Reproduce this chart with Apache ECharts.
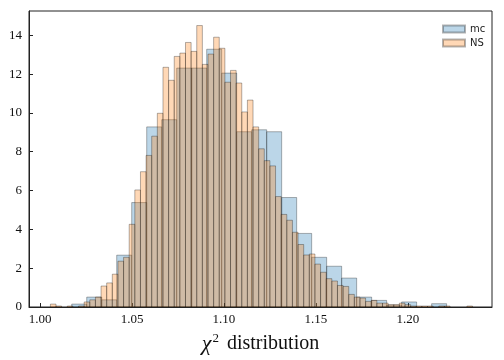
<!DOCTYPE html>
<html>
<head>
<meta charset="utf-8">
<script src="https://cdn.jsdelivr.net/npm/echarts@6/dist/echarts.min.js"></script>
<style>html,body{margin:0;padding:0;background:#fff}#c{width:504px;height:360px}</style>
</head>
<body>
<div id="c"></div>
<script>
// ---- data ----
const seriesNames = ['mc', 'NS'];
// mc histogram: 25 equal bins
const mcBinStart = 1.01723;
const mcBinWidth = 0.008152;
const mcHeights = [0.15, 0.51, 0.37, 2.67, 5.38, 9.28, 9.65, 12.31, 12.31, 13.28,
  12.05, 9.03, 9.13, 9.03, 5.64, 3.79, 2.56, 2.10, 1.49, 0.51,
  0.34, 0.10, 0.26, 0.00, 0.17];
// NS histogram: 75 equal bins
const nsBinStart = 1.00563;
const nsBinWidth = 0.00306;
const nsHeights = [0.15, 0.05, 0.00, 0.05, 0.00, 0.05, 0.26, 0.37, 0.51, 1.08,
  1.24, 1.69, 2.36, 2.56, 4.26, 6.03, 6.97, 7.81, 8.80, 9.98,
  12.35, 11.68, 12.91, 13.08, 13.63, 13.17, 14.50, 12.50, 13.03, 13.90,
  13.33, 11.58, 12.19, 11.54, 10.05, 10.66, 9.28, 8.15, 7.54, 7.27,
  5.69, 4.77, 4.47, 3.85, 3.22, 2.68, 2.73, 2.21, 1.79, 1.46,
  1.34, 1.11, 1.06, 0.65, 0.51, 0.46, 0.29, 0.34, 0.20, 0.20,
  0.12, 0.12, 0.20, 0.12, 0.05, 0.05, 0.05, 0.05, 0.00, 0.05,
  0.05, 0.00, 0.00, 0.00, 0.05];
const xTicks = [1.00, 1.05, 1.10, 1.15, 1.20];
const yTicks = [0, 2, 4, 6, 8, 10, 12, 14];
const xRange = [0.994, 1.2457];
const yRange = [0, 15.25];

// ---- build ----
function bins(start, width, heights) {
  return heights.map((h, i) => [start + i * width, start + (i + 1) * width, h]);
}
function renderBar(fill) {
  return function (params, api) {
    const x0 = api.value(0), x1 = api.value(1), h = api.value(2);
    if (!(h > 0)) return null;
    const a = api.coord([x0, h]);
    const b = api.coord([x1, 0]);
    return {
      type: 'rect',
      shape: { x: a[0], y: a[1], width: b[0] - a[0], height: b[1] - a[1] },
      style: { fill: fill, stroke: 'rgba(0,0,0,0.3)', lineWidth: 1 }
    };
  };
}
const serif = 'Liberation Serif';
const chart = echarts.init(document.getElementById('c'), null, { renderer: 'canvas' });
chart.setOption({
  animation: false,
  backgroundColor: '#fff',
  grid: { left: 29, right: 12, top: 11, bottom: 52, show: true, borderColor: '#222', borderWidth: 1, backgroundColor: 'transparent' },
  legend: {
    data: seriesNames,
    orient: 'vertical',
    left: 437, top: 19,
    icon: 'rect',
    itemWidth: 22, itemHeight: 7, itemGap: 4,
    textStyle: { fontFamily: 'DejaVu Sans', fontSize: 10, color: '#222', padding: [0, 0, 0, 0] }
  },
  xAxis: {
    type: 'value', min: xRange[0], max: xRange[1],
    name: '{i|χ}{s|2} distribution',
    nameLocation: 'middle', nameGap: 25,
    nameTextStyle: {
      fontFamily: serif, fontSize: 20, color: '#111',
      rich: {
        i: { fontFamily: serif, fontStyle: 'italic', fontSize: 22, color: '#111', verticalAlign: 'bottom' },
        s: { fontFamily: serif, fontSize: 13, color: '#111', verticalAlign: 'top', padding: [0, 3, 10, 1] }
      }
    },
    axisLine: { show: true, lineStyle: { color: '#222', width: 1 } },
    axisTick: { show: true, inside: true, length: 4, customValues: xTicks, lineStyle: { color: '#222' } },
    axisLabel: { customValues: xTicks, formatter: v => v.toFixed(2), fontFamily: serif, fontSize: 13, color: '#111', margin: 6 },
    splitLine: { show: false }
  },
  yAxis: {
    type: 'value', min: yRange[0], max: yRange[1],
    axisLine: { show: true, lineStyle: { color: '#222', width: 1 } },
    axisTick: { show: true, inside: true, length: 4, customValues: yTicks, lineStyle: { color: '#222' } },
    axisLabel: { customValues: yTicks, formatter: v => String(v), fontFamily: serif, fontSize: 13, color: '#111', margin: 7 },
    splitLine: { show: false }
  },
  series: [
    {
      name: seriesNames[0], type: 'custom', clip: true,
      itemStyle: { color: 'rgba(31,119,180,0.3)', borderColor: 'rgba(0,0,0,0.3)', borderWidth: 1 },
      renderItem: renderBar('rgba(31,119,180,0.3)'),
      encode: { x: [0, 1], y: 2 },
      data: bins(mcBinStart, mcBinWidth, mcHeights)
    },
    {
      name: seriesNames[1], type: 'custom', clip: true,
      itemStyle: { color: 'rgba(255,127,14,0.3)', borderColor: 'rgba(0,0,0,0.3)', borderWidth: 1 },
      renderItem: renderBar('rgba(255,127,14,0.3)'),
      encode: { x: [0, 1], y: 2 },
      data: bins(nsBinStart, nsBinWidth, nsHeights)
    }
  ]
});
</script>
</body>
</html>
